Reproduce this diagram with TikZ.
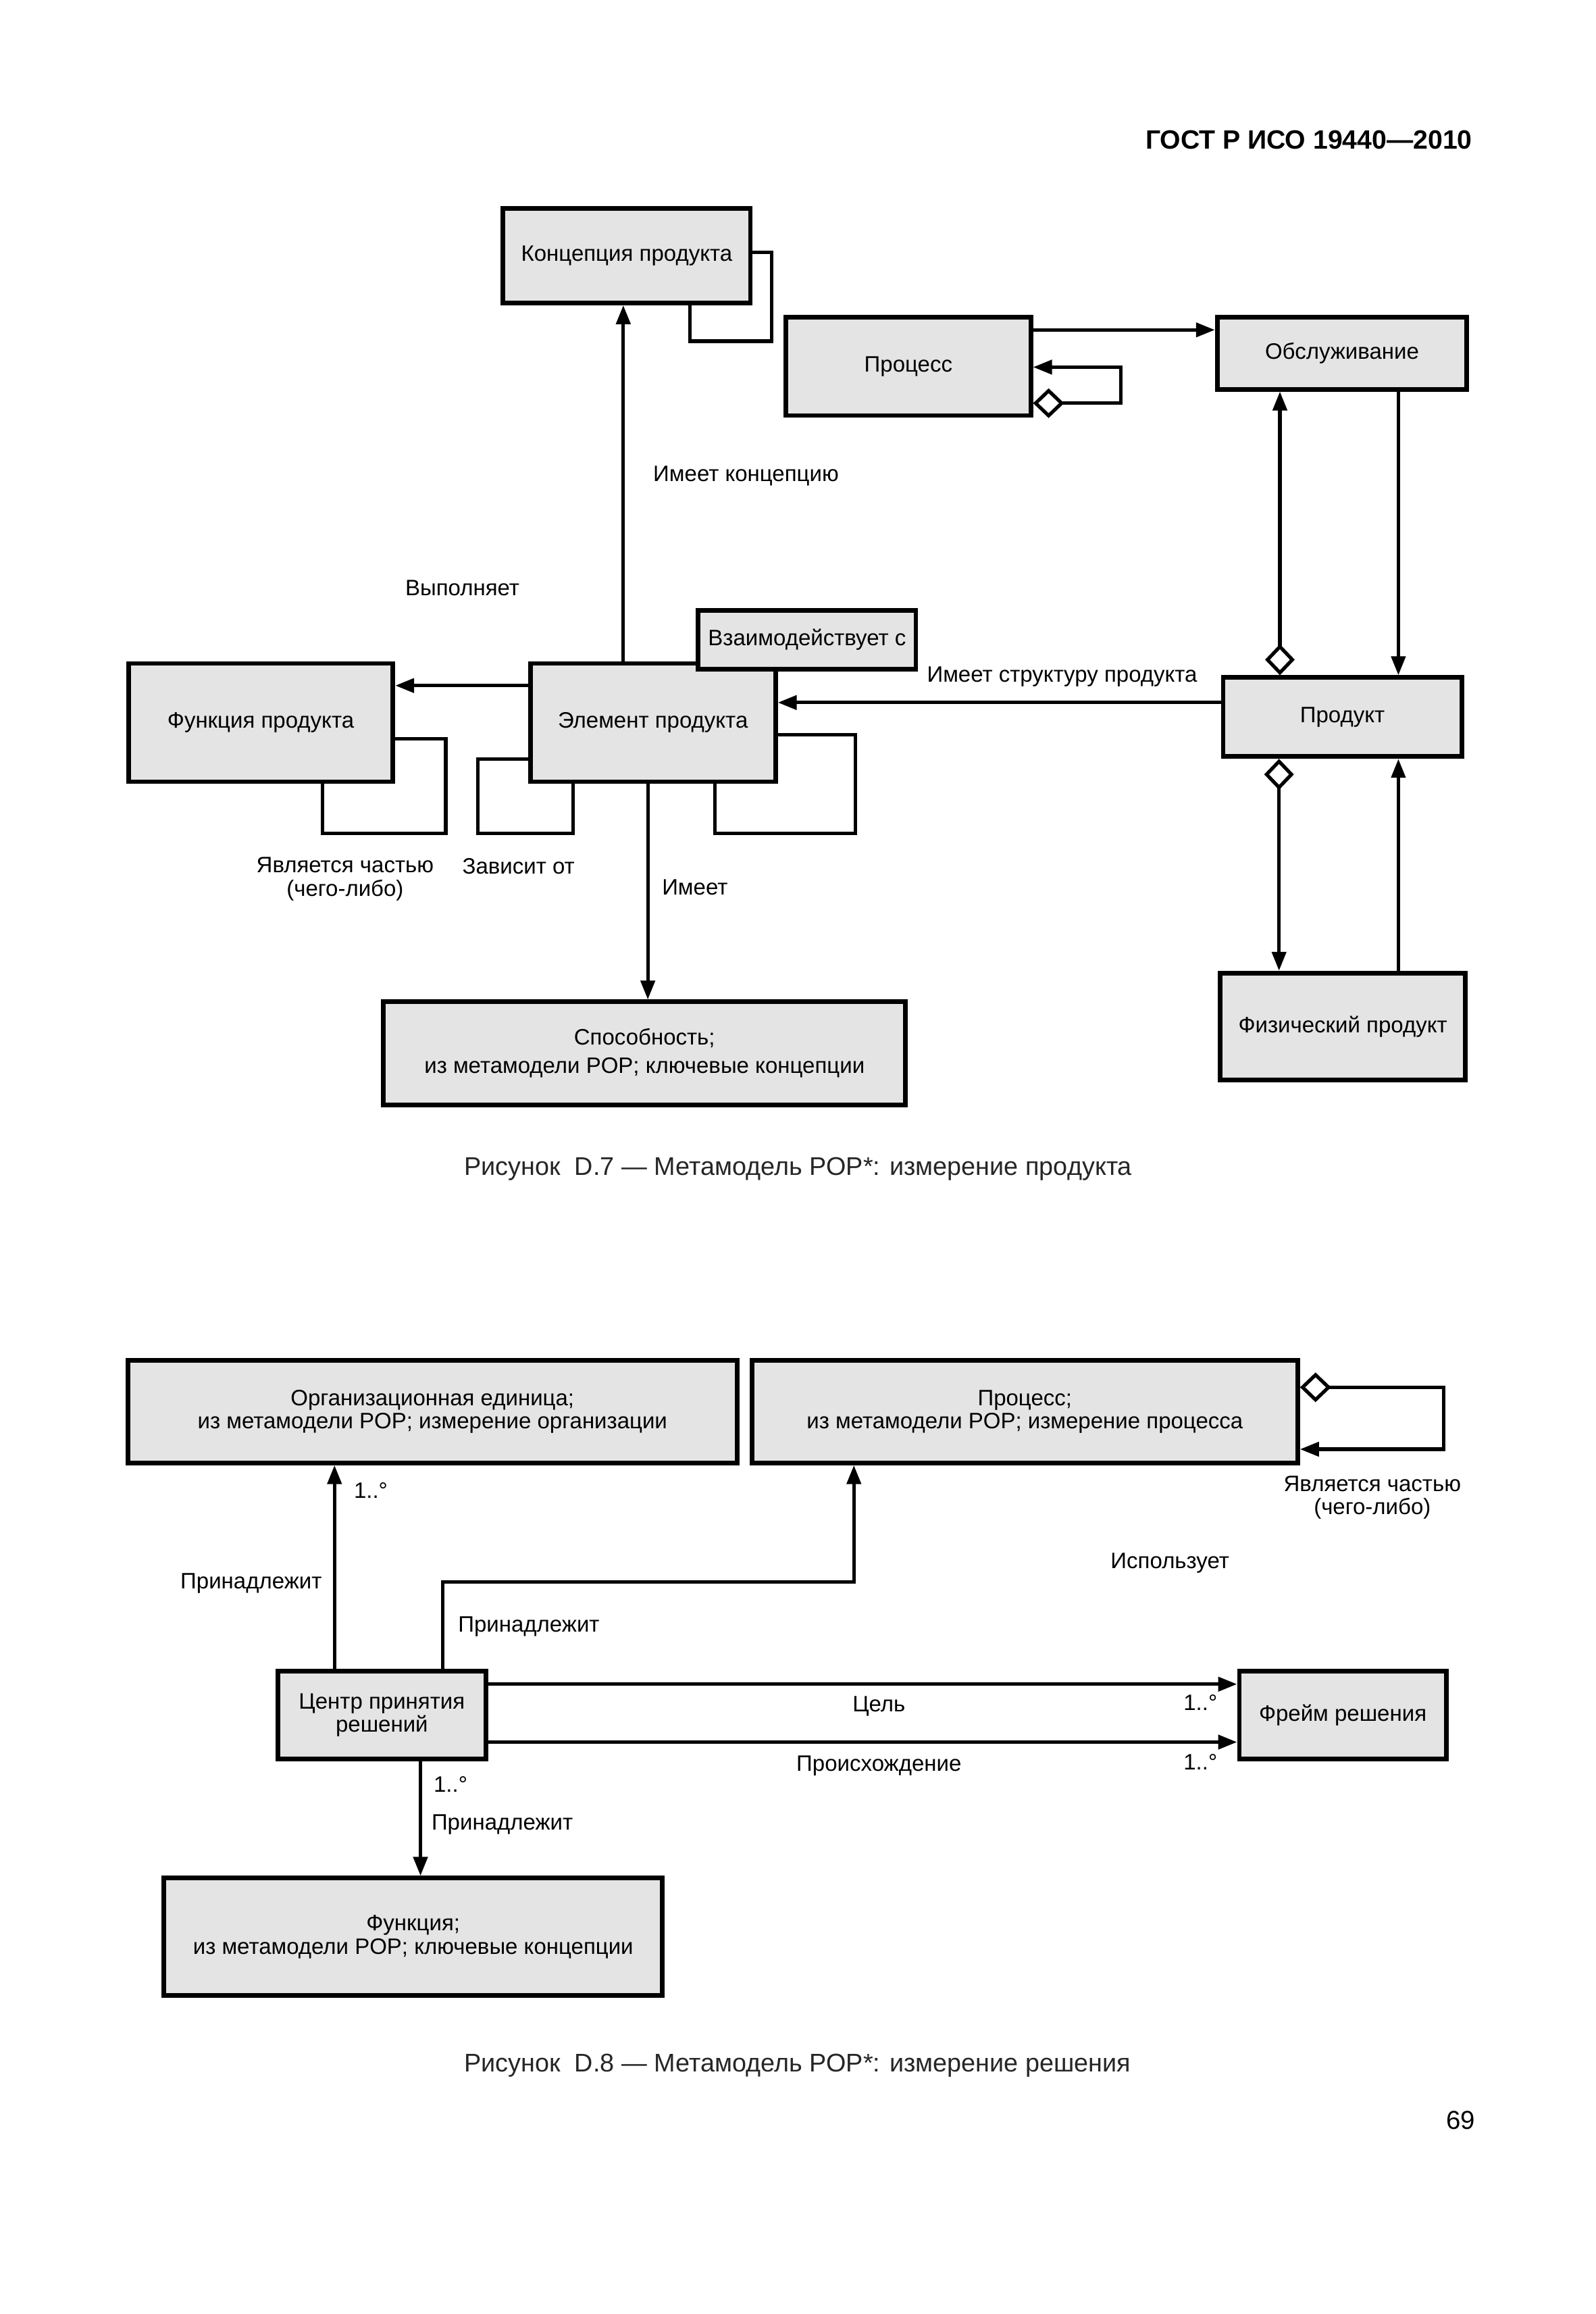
\documentclass[tikz,border=0pt]{standalone}
\usepackage{fontspec}
\setmainfont{Liberation Sans}
\usetikzlibrary{arrows.meta,calc}
\definecolor{boxgray}{HTML}{E4E4E4}
\newcommand\uu{0.54675}
\newcommand\bx[6]{\node[box,minimum width={(#4-#2)*\uu*1pt},minimum height={(#5-#3)*\uu*1pt}] (#1) at ({(#2+#4)/2},{(#3+#5)/2}) {#6};}
\begin{document}
\begin{tikzpicture}[x=0.54675pt,y=-0.54675pt,
  box/.style={draw=black,line width=1.7pt,fill=boxgray,inner sep=0pt,align=center,font=\fontsize{8.25}{8.6}\selectfont},
  lbl/.style={inner sep=0pt,align=center,font=\fontsize{8.25}{8.7}\selectfont},
  captxt/.style={inner sep=0pt,anchor=west,text=black!85,font=\fontsize{9.45}{10}\selectfont},
  conn/.style={line width=1.3pt,line join=miter},
  tri/.tip={Triangle[length=7pt,width=5.2pt]},
  dia/.tip={Diamond[length=11.5pt,width=11pt,fill=white]}]
\useasboundingbox (0,0) rectangle (1080,1566);
\fill[white] (0,0) rectangle (1080,1566);

% header
\node[anchor=east,inner sep=0pt,font=\bfseries\fontsize{9.8}{10}\selectfont] (hdr) at (997,94.5) {ГОСТ Р ИСО 19440—2010};

% ---------- Figure D.7 ----------
\bx{concept}{340.5}{141}{508}{205}{Концепция продукта}
\bx{proc}{532}{214.5}{697.8}{281.2}{Процесс}
\bx{serv}{824}{214.5}{993}{263.4}{Обслуживание}
\bx{func}{87}{449}{266}{529}{Функция продукта}
\bx{elem}{359}{449}{525}{529}{Элемент продукта}
\bx{inter}{472.7}{413}{620}{452.7}{Взаимодействует с}
\bx{cap}{259.6}{678}{613}{747.6}{Способность;\\[1.9pt]из метамодели POP; ключевые концепции}
\bx{prod}{828}{458.5}{989.5}{512}{Продукт}
\bx{phys}{826}{658.5}{992}{730.8}{Физический продукт}

% element -> concept
\coordinate (a1) at ($(concept.south west)+(83,0)$);
\draw[conn,-tri] (a1 |- elem.north) -- (a1);
% concept self loop
\draw[conn] ($(concept.north east)+(0,31.2)$) -- ++(12.7,0) -- ++(0,60.2) -| ($(concept.south west)+(128.2,0)$);
% process -> service
\coordinate (p1) at ($(proc.north east)+(0,10.3)$);
\draw[conn,-tri] (p1) -- (p1 -| serv.west);
% process self loop
\draw[conn,dia-tri] ($(proc.north east)+(0,59.9)$) -- ++(59.5,0) |- ($(proc.north east)+(0,35.5)$);
% element -> function
\coordinate (e1) at ($(elem.north west)+(0,16.5)$);
\draw[conn,-tri] (e1) -- (e1 -| func.east);
% product -> element
\coordinate (e2) at ($(elem.north east)+(0,28)$);
\draw[conn,-tri] (e2 -| prod.west) -- (e2);
% function self loop
\draw[conn] ($(func.north east)+(0,52.7)$) -- ++(34.2,0) -- ++(0,63.8) -| ($(func.south west)+(132.7,0)$);
% element left loop
\draw[conn] ($(elem.north west)+(0,66.2)$) -- ++(-34,0) -- ++(0,50.3) -| ($(elem.south west)+(30.6,0)$);
% element right loop
\draw[conn] ($(elem.north east)+(0,49.7)$) -- ++(52.5,0) -- ++(0,66.8) -| ($(elem.south west)+(126.6,0)$);
% element -> capability
\coordinate (e3) at ($(elem.south west)+(81.1,0)$);
\draw[conn,-tri] (e3) -- (e3 |- cap.north);
% service / product
\coordinate (s1) at ($(prod.north west)+(40,0)$);
\draw[conn,dia-tri] (s1) -- (s1 |- serv.south);
\coordinate (s2) at ($(prod.north west)+(120.2,0)$);
\draw[conn,-tri] (s2 |- serv.south) -- (s2);
% product / physical product
\coordinate (s3) at ($(prod.south west)+(39.4,0)$);
\draw[conn,dia-tri] (s3) -- (s3 |- phys.north);
\coordinate (s4) at ($(prod.south west)+(120.2,0)$);
\draw[conn,-tri] (s4 |- phys.north) -- (s4);

% labels D.7
\node[lbl] (t1) at (505,322) {Имеет концепцию};
\node[lbl] (t2) at (313,398) {Выполняет};
\node[lbl] (t3) at (719,458) {Имеет структуру продукта};
\node[lbl] (t4) at (233.6,594.7) {Является частью\\(чего-либо)};
\node[lbl] (t5) at (351,586) {Зависит от};
\node[lbl] (t6) at (470.4,600.5) {Имеет};
\node[captxt] (cap7) at (314,791) {Рисунок\hspace{0.55em}D.7 — Метамодель POP*: измерение продукта};

% ---------- Figure D.8 ----------
\bx{org}{86.5}{920.6}{499}{990}{Организационная единица;\\из метамодели POP; измерение организации}
\bx{proc8}{509}{920.6}{878.5}{990}{Процесс;\\из метамодели POP; измерение процесса}
\bx{dc}{188}{1131}{329}{1190.5}{Центр принятия\\решений}
\bx{frame}{839}{1131}{979}{1190.5}{Фрейм решения}
\bx{fn}{111}{1271}{448.4}{1350.5}{Функция;\\из метамодели POP; ключевые концепции}

% decision centre -> organisational unit
\coordinate (d1) at ($(dc.north west)+(40,0)$);
\draw[conn,-tri] (d1) -- (d1 |- org.south);
% decision centre -> process
\draw[conn,-tri] ($(dc.north west)+(113.3,0)$) -- ++(0,-58.7) -| ($(proc8.south west)+(70.6,0)$);
% goal / origin
\coordinate (d3) at ($(dc.north east)+(0,10.3)$);
\draw[conn,-tri] (d3) -- (d3 -| frame.west);
\coordinate (d4) at ($(dc.north east)+(0,49.5)$);
\draw[conn,-tri] (d4) -- (d4 -| frame.west);
% decision centre -> function
\coordinate (d5) at ($(dc.south west)+(98.2,0)$);
\draw[conn,-tri] (d5) -- (d5 |- fn.north);
% process self loop
\draw[conn,dia-tri] ($(proc8.north east)+(0,19.8)$) -- ++(97.3,0) |- ($(proc8.north east)+(0,61.7)$);

% labels D.8
\node[lbl] (u1) at (251,1008.5) {1..°};
\node[lbl] (u2) at (170,1071.5) {Принадлежит};
\node[lbl] (u3) at (358,1101) {Принадлежит};
\node[lbl] (u4) at (929,1013.5) {Является частью\\(чего-либо)};
\node[lbl] (u5) at (792,1057.8) {Использует};
\node[lbl] (u6) at (595,1154.6) {Цель};
\node[lbl] (u7) at (595,1195) {Происхождение};
\node[lbl] (u8) at (812.6,1152.3) {1..°};
\node[lbl] (u9) at (812.6,1192.6) {1..°};
\node[lbl] (u10) at (305,1207.5) {1..°};
\node[lbl] (u11) at (340,1234.6) {Принадлежит};
\node[captxt] (cap8) at (314,1398) {Рисунок\hspace{0.55em}D.8 — Метамодель POP*: измерение решения};

\node[anchor=east,inner sep=0pt,font=\fontsize{9.6}{10}\selectfont] (pg) at (999,1435) {69};
\end{tikzpicture}
\end{document}
